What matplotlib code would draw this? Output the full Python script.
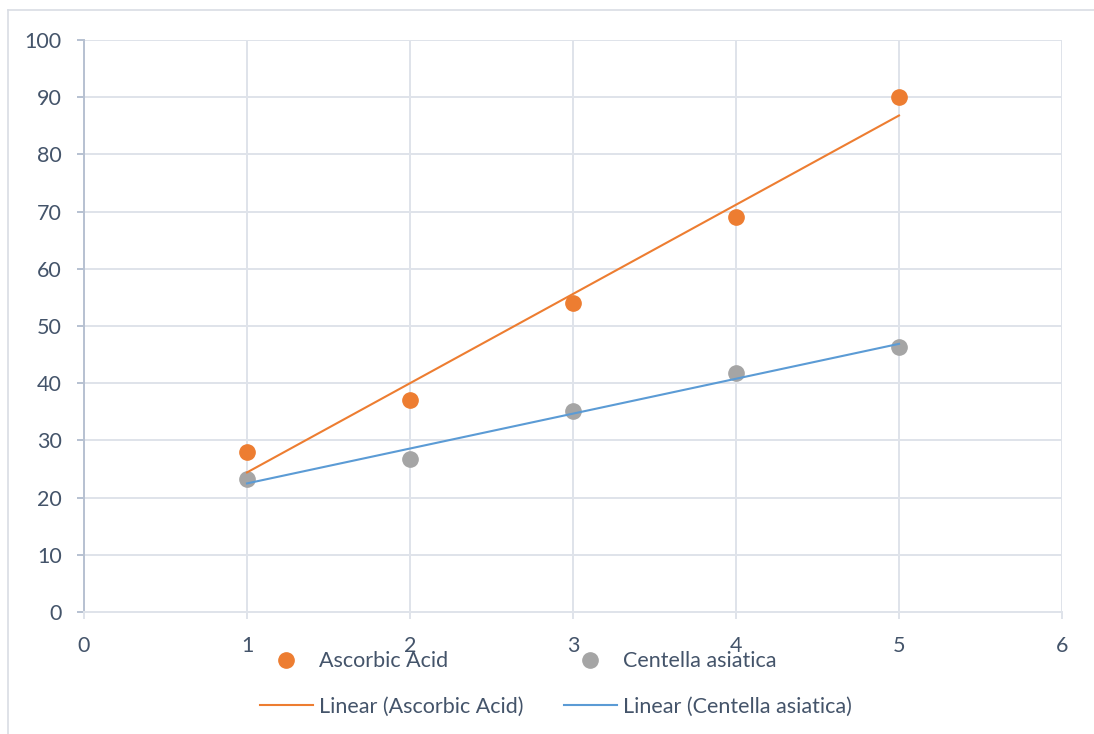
import matplotlib
matplotlib.use("Agg")
import matplotlib.pyplot as plt
from matplotlib.lines import Line2D
import numpy as np

plt.rcParams['font.family'] = ['Lato', 'DejaVu Sans']

# Measurements per sample index
x_vals = [1, 2, 3, 4, 5]
ascorbic_acid = [28.0, 37.0, 54.0, 69.0, 90.0]
centella_asiatica = [23.3, 26.8, 35.2, 41.8, 46.3]

series_names = ["Ascorbic Acid", "Centella asiatica"]
x_ticks = [0, 1, 2, 3, 4, 5, 6]
y_ticks = [0, 10, 20, 30, 40, 50, 60, 70, 80, 90, 100]

ORANGE = "#ED7D31"
GRAY = "#A5A5A5"
BLUE = "#5B9BD5"
GRID = "#DFE3EA"
AXIS = "#B7C1D1"
TEXT = "#44546A"
FS = 15.5

W, H = 1094, 734
fig = plt.figure(figsize=(W / 100, H / 100), dpi=100)
fig.patch.set_facecolor("white")

# Chart-area outline (left and top edges, running off the page)
fig.add_artist(Line2D([8 / W, 8 / W], [0, 1 - 10 / H], transform=fig.transFigure,
                      color="#D9DDE4", lw=1.2))
fig.add_artist(Line2D([8 / W, 1], [1 - 10 / H, 1 - 10 / H], transform=fig.transFigure,
                      color="#D9DDE4", lw=1.2))

left, right = 84 / W, 1062 / W
bottom, top = 1 - 612 / H, 1 - 40 / H
ax = fig.add_axes([left, bottom, right - left, top - bottom])

ax.set_xlim(x_ticks[0], x_ticks[-1])
ax.set_ylim(y_ticks[0], y_ticks[-1])
ax.set_xticks(x_ticks)
ax.set_yticks(y_ticks)
ax.grid(True, color=GRID, lw=1.4, zorder=0)
ax.set_axisbelow(True)

for s in ("top", "right"):
    ax.spines[s].set_visible(False)
ax.spines["left"].set_color(AXIS)
ax.spines["left"].set_linewidth(1.4)
ax.spines["bottom"].set_color(GRID)
ax.spines["bottom"].set_linewidth(1.4)

ax.tick_params(axis="y", length=5, width=1.4, color=AXIS, pad=11,
               labelsize=FS, labelcolor=TEXT)
ax.tick_params(axis="x", length=5, width=1.4, color=GRID, pad=12,
               labelsize=FS, labelcolor=TEXT)

# Data points
sc1, = ax.plot(x_vals, ascorbic_acid, "o", ms=11, color=ORANGE, mec=ORANGE,
               zorder=3, clip_on=False)
sc2, = ax.plot(x_vals, centella_asiatica, "o", ms=11, color=GRAY, mec=GRAY,
               zorder=3, clip_on=False)

# Least-squares trend lines
xs = np.array(x_vals, dtype=float)
trend_lines = []
for ys, col in ((ascorbic_acid, ORANGE), (centella_asiatica, BLUE)):
    m, b = np.polyfit(xs, np.array(ys), 1)
    ln, = ax.plot([xs[0], xs[-1]], [m * xs[0] + b, m * xs[-1] + b],
                  color=col, lw=1.5, zorder=4)
    trend_lines.append(ln)

handles = [sc1, trend_lines[0], sc2, trend_lines[1]]
labels = [series_names[0], f"Linear ({series_names[0]})",
          series_names[1], f"Linear ({series_names[1]})"]
leg = fig.legend(handles, labels, ncol=2, loc="center",
                 bbox_to_anchor=((258 + 858) / 2 / W - 2 / W, 1 - 684 / H),
                 frameon=False, fontsize=FS, labelcolor=TEXT,
                 handlelength=2.45, handletextpad=0.3, columnspacing=1.88,
                 labelspacing=1.2, borderpad=0)

fig.savefig("out.png", dpi=100, facecolor="white")
